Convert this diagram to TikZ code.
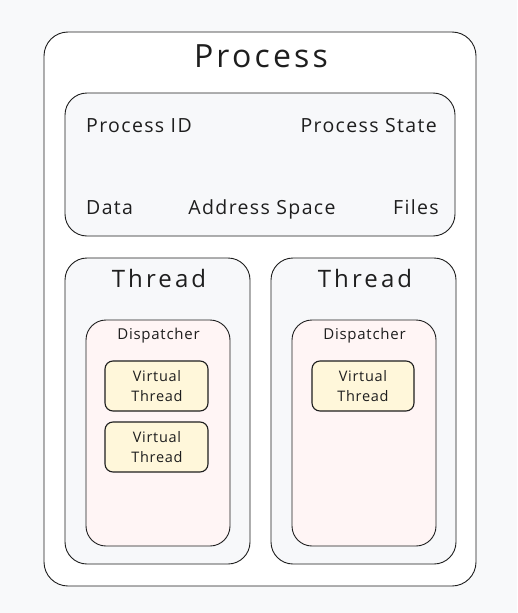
\documentclass[tikz,border=0pt]{standalone}
\usepackage{fontspec}
\setmainfont{Open Sans}
\definecolor{bg}{HTML}{F8F9FA}
\definecolor{edge}{HTML}{1E1E1E}
\definecolor{panel}{HTML}{F7F8FA}
\definecolor{disp}{HTML}{FFF5F5}
\definecolor{vt}{HTML}{FFF7DA}
\newcommand{\sz}[3]{\fontsize{#1}{#2}\selectfont\addfontfeature{LetterSpace=#3}}
\tikzset{
  box/.style={draw=edge, line width=0.9pt, rounded corners=#1},
  box/.default=20pt,
  lbl/.style={inner sep=0pt, text=edge},
  info/.style={lbl, font=\sz{19.5}{22}{7}},
  vtlbl/.style={lbl, align=center, font=\sz{14.5}{19.3}{5}},
}
\begin{document}
\begin{tikzpicture}[x=1pt,y=-1pt]
\useasboundingbox[fill=bg] (0,0) rectangle (517,613);
% outer process
\draw[box=24pt, fill=white] (44,32) rectangle (476,586);
\node[lbl, anchor=base, font=\sz{32}{36}{10}] (ptitle) at (261,67) {Process};
% info panel
\draw[box=22pt, fill=panel] (65,93) rectangle (455,236);
\node[info, anchor=base west] (pid) at (86,132.5) {Process ID};
\node[info, anchor=base east] (pstate) at (437,132.5) {Process State};
\node[info, anchor=base west] (data) at (86,214) {Data};
\node[info, anchor=base] (aspace) at (262,214) {Address Space};
\node[info, anchor=base east] (files) at (439,214) {Files};
% threads
\foreach \x/\n in {65/a,271/b}{
  \draw[box=22pt, fill=panel] (\x,258) rectangle (\x+185,564);
  \node[lbl, anchor=base, font=\sz{24}{28}{13}] (thr\n) at (\x+94,287) {Thread};
  \draw[box=20pt, fill=disp] (\x+21,320) rectangle (\x+165,546);
  \node[lbl, anchor=base, font=\sz{15}{18}{5}] (disp\n) at (\x+93.5,339.3) {Dispatcher};
}
\tikzset{vtbox/.style={box=8pt, fill=vt, line width=1.1pt}}
\draw[vtbox] (105,361) rectangle (208,411);
\node[vtlbl] (vt1) at (157,386) {Virtual\\Thread};
\draw[vtbox] (105,422) rectangle (208,472);
\node[vtlbl] (vt2) at (157,447) {Virtual\\Thread};
\draw[vtbox] (312,361) rectangle (414,411);
\node[vtlbl] (vt3) at (363,386) {Virtual\\Thread};
\end{tikzpicture}
\end{document}
